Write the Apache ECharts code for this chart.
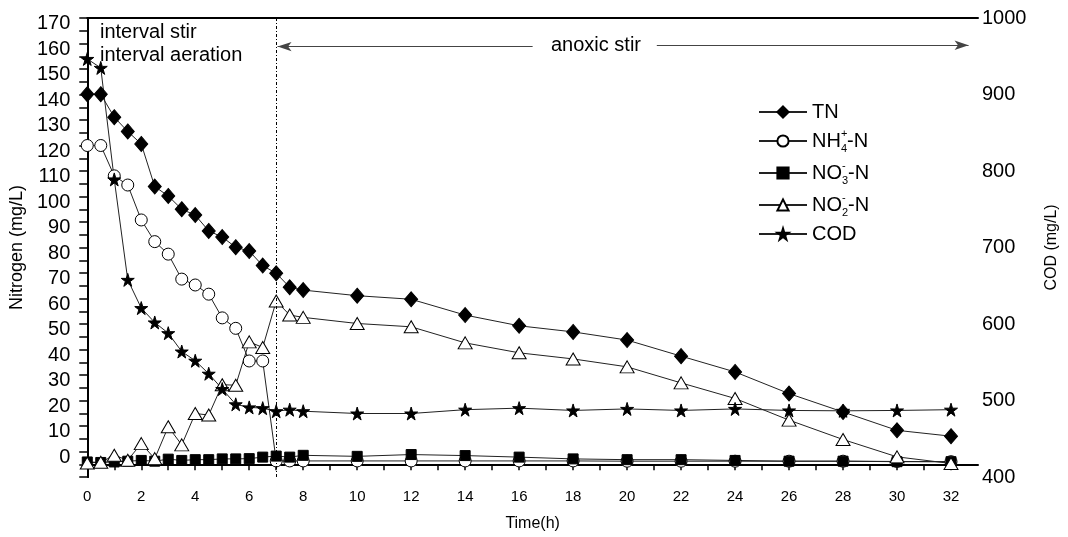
<!DOCTYPE html>
<html>
<head>
<meta charset="utf-8">
<script src="https://cdn.jsdelivr.net/npm/echarts@6/dist/echarts.min.js"></script>
<style>
  html, body { margin: 0; padding: 0; background: #fff; }
  #chart { width: 1068px; height: 537px; }
</style>
</head>
<body>
<div id="chart"></div>
<script>
const times = [0, 0.5, 1, 1.5, 2, 2.5, 3, 3.5, 4, 4.5, 5, 5.5, 6, 6.5, 7, 7.5, 8,
  10, 12, 14, 16, 18, 20, 22, 24, 26, 28, 30, 32];
const tn = [145.1, 145.1, 136.1, 130.5, 125.6, 108.9, 105.2, 100, 97.7, 91.5, 89.1, 85.1, 83.6, 77.9, 74.9, 69.4, 68.3,
  66.1, 64.7, 58.5, 54.3, 51.9, 48.7, 42.4, 36.2, 27.7, 20.5, 13.3, 11];
const nh4 = [125, 125, 113.1, 109.5, 95.8, 87.3, 82.4, 72.6, 70.3, 66.7, 57.4, 53.3, 40.5, 40.5, 1.3, 1.3, 1.3,
  1.3, 1.3, 1.3, 1.3, 1.3, 1.2, 1.2, 1.2, 1.2, 1.2, 1.1, 1.0];
const no3 = [0.9, 0.7, 0.9, 1.2, 1.5, 1.2, 2.0, 1.5, 1.8, 1.8, 2.1, 2.1, 2.2, 2.8, 3.2, 2.8, 3.5,
  3.1, 3.8, 3.4, 2.8, 2.1, 1.8, 1.8, 1.5, 1.2, 1.2, 1.0, 1.0];
const no2 = [0.5, 0.8, 3.5, 1.6, 8.1, 2.2, 14.7, 7.6, 19.9, 19.3, 31.2, 31, 48, 45.8, 64, 58.5, 57.6,
  55.2, 53.9, 47.6, 43.7, 41.3, 38.2, 31.9, 25.8, 17.3, 9.7, 2.9, 0.3];
const cod = [946.5, 934.8, 789, 657.7, 620.8, 602, 588, 564, 552, 535, 515, 495, 491, 490, 486, 488, 486,
  483, 483, 488, 490, 487, 489, 487, 489, 487, 486.5, 487, 488];

const font = 'Arial, "Liberation Sans", sans-serif';
const star = 'path://M50,0 L61,35 L98,35 L68,57 L79,91 L50,70 L21,91 L32,57 L2,35 L39,35 Z';
const pairs = arr => times.map((t, i) => [t, arr[i]]);

const chart = echarts.init(document.getElementById('chart'));

function lineSeries(name, data, symbol, size, filled, yAxisIndex) {
  return {
    name: name,
    type: 'line',
    yAxisIndex: yAxisIndex || 0,
    data: pairs(data),
    symbol: symbol,
    symbolSize: size,
    showAllSymbol: true,
    lineStyle: { color: '#222', width: 1 },
    itemStyle: { color: filled ? '#000' : '#fff', borderColor: '#000', borderWidth: 1 },
    emphasis: { disabled: true },
    animation: false
  };
}

const series = [
  lineSeries('TN', tn, 'diamond', [13, 15], true),
  lineSeries('NH4', nh4, 'circle', 12, false),
  lineSeries('NO3', no3, 'rect', 10, true),
  lineSeries('NO2', no2, 'triangle', [14, 12], false),
  lineSeries('COD', cod, star, 13, true, 1)
];

series[0].markLine = {
  silent: true,
  symbol: 'none',
  label: { show: false },
  animation: false,
  data: [
    [{ coord: [7, -5], lineStyle: { type: [3, 2, 1, 2], color: '#000', width: 1 } }, { coord: [7, 175] }],
    [{ coord: [16.5, 163.8], symbol: 'none', lineStyle: { type: 'solid', color: '#444', width: 1 } },
     { coord: [7.05, 163.8], symbol: 'arrow', symbolSize: [7, 14] }],
    [{ coord: [21.1, 164.3], symbol: 'none', lineStyle: { type: 'solid', color: '#444', width: 1 } },
     { coord: [32.65, 164.3], symbol: 'arrow', symbolSize: [7, 14] }]
  ]
};

const legendNames = {
  TN: '{b|TN}',
  NH4: '{b|NH}{sup|+}{sub|4}{b|-N}',
  NO3: '{b|NO}{sup|-}{sub|3}{b|-N}',
  NO2: '{b|NO}{sup|-}{sub|2}{b|-N}',
  COD: '{b|COD}'
};

chart.setOption({
  backgroundColor: '#fff',
  textStyle: { fontFamily: font, color: '#000' },
  grid: { left: 85, right: 88, top: 18, bottom: 60 },
  legend: {
    orient: 'vertical',
    left: 753,
    top: 97,
    itemWidth: 48,
    itemHeight: 14,
    itemGap: 6,
    selectedMode: false,
    formatter: name => legendNames[name],
    textStyle: {
      fontFamily: font,
      rich: {
        b: { fontSize: 20, lineHeight: 26, color: '#000', fontFamily: font },
        sup: { fontSize: 11, width: 0, align: 'left', verticalAlign: 'top', lineHeight: 26, color: '#000', fontFamily: font },
        sub: { fontSize: 11, verticalAlign: 'bottom', lineHeight: 26, color: '#000', fontFamily: font }
      }
    },
    data: ['TN', 'NH4', 'NO3', 'NO2', 'COD']
  },
  xAxis: [{
    type: 'value',
    min: 0,
    max: 33,
    interval: 1,
    name: 'Time(h)',
    nameLocation: 'middle',
    nameGap: 39,
    nameTextStyle: { fontSize: 16, fontFamily: font, color: '#000' },
    axisLine: { lineStyle: { color: '#000', width: 2 } },
    axisTick: { length: 6, lineStyle: { color: '#000', width: 1.5 } },
    axisLabel: {
      fontSize: 15, color: '#000', margin: 12, fontFamily: font,
      showMaxLabel: false,
      formatter: v => (v % 2 === 0 && v <= 32) ? String(v) : ''
    },
    splitLine: { show: false }
  }, {
    type: 'value',
    position: 'top',
    min: 0,
    max: 33,
    interval: 1,
    axisLine: { show: true, lineStyle: { color: '#000', width: 2 } },
    axisTick: { show: false },
    axisLabel: { show: false },
    splitLine: { show: false }
  }],
  yAxis: [{
    type: 'value',
    min: -5,
    max: 175,
    interval: 5,
    name: 'Nitrogen (mg/L)',
    nameLocation: 'middle',
    nameRotate: 90,
    nameGap: 57,
    nameTextStyle: { fontSize: 18, fontFamily: font, color: '#000' },
    axisLine: { show: true, lineStyle: { color: '#000', width: 2 } },
    axisTick: { length: 8, lineStyle: { color: '#000', width: 1.5 } },
    axisLabel: {
      fontSize: 20, color: '#000', margin: 17, fontFamily: font,
      verticalAlign: 'bottom',
      lineHeight: 14,
      formatter: v => (v % 10 === 0 && v >= 0 && v <= 170) ? String(v) : ''
    },
    splitLine: { show: false }
  }, {
    type: 'value',
    min: 400,
    max: 1000,
    interval: 50,
    position: 'right',
    name: 'COD (mg/L)',
    nameLocation: 'middle',
    nameRotate: 90,
    nameGap: 66,
    nameTextStyle: { fontSize: 16, fontFamily: font, color: '#000' },
    axisLine: { show: true, lineStyle: { color: '#000', width: 2 } },
    axisTick: { inside: true, length: 7, lineStyle: { color: '#000', width: 1.5 } },
    axisLabel: {
      fontSize: 20, color: '#000', margin: 4, fontFamily: font,
      formatter: v => (v % 100 === 0) ? String(v) : ''
    },
    splitLine: { show: false }
  }],
  graphic: [
    { type: 'text', left: 100, top: 22, style: { text: 'interval stir', fontSize: 20, fontFamily: font, fill: '#000' } },
    { type: 'text', left: 100, top: 45, style: { text: 'interval aeration', fontSize: 20, fontFamily: font, fill: '#000' } },
    { type: 'text', left: 551, top: 35, style: { text: 'anoxic stir', fontSize: 20, fontFamily: font, fill: '#000' } }
  ],
  series: series
});

window.addEventListener('resize', chart.resize);
</script>
</body>
</html>
